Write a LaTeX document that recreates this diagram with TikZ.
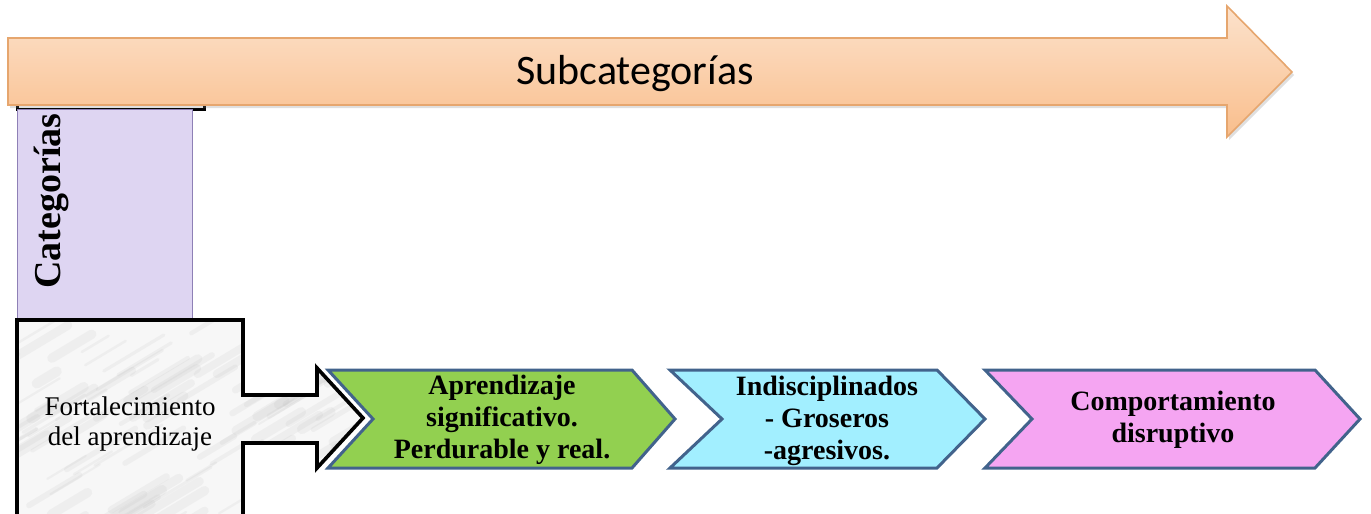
\documentclass[tikz,border=0pt]{standalone}
\usepackage{fontspec}
\setmainfont{Liberation Serif}
\newfontfamily\calibri{Carlito}
\usetikzlibrary{shadows}

\definecolor{arrowtop}{HTML}{FCE2CC}
\definecolor{arrowbot}{HTML}{F9BE8C}
\definecolor{arrowline}{HTML}{E6A66E}
\definecolor{lavender}{HTML}{DED5F2}
\definecolor{lavline}{HTML}{8E80B6}
\definecolor{chevline}{HTML}{42638C}
\definecolor{verde}{HTML}{92D050}
\definecolor{celeste}{HTML}{A2EFFF}
\definecolor{rosa}{HTML}{F5A5F2}

\tikzset{chevron/.style={draw=chevline, line width=1.5pt, line join=miter},
  subtxt/.style={font=\bfseries\fontsize{14}{16}\selectfont, align=center}}

\begin{document}
\begin{tikzpicture}[x=0.5pt,y=-0.5pt]
\useasboundingbox (0,0) rectangle (1371,514);

% categorias
\draw[black, line width=1.5pt] (17,96) rectangle (204,109);
\draw[lavline, fill=lavender] (17,109) rectangle (192,320);
\node[rotate=90, font=\bfseries\fontsize{19}{20}\selectfont] (cat) at (51,201) {Categorías};

% flecha grande
\draw[arrowline, line width=0.8pt, top color=arrowtop, bottom color=arrowbot,
  drop shadow={opacity=0.25, shadow xshift=1pt, shadow yshift=-1.5pt}]
  (8,38) -- (1227,38) -- (1227,6) -- (1292,72) -- (1227,137) -- (1227,105) -- (8,105) -- cycle;
\node[font=\calibri\fontsize{21}{24}\selectfont] (sub) at (635,74) {Subcategorías};

% caja de marmol
\begin{scope}
\clip (17,320) -- (243,320) -- (243,395) -- (317,395) -- (317,368) -- (363,418)
  -- (317,468) -- (317,443) -- (243,443) -- (243,530) -- (17,530) -- cycle;
\fill[gray!6] (0,300) rectangle (400,530);
\pgfmathsetseed{5}
\foreach \k in {1,...,110}{
  \pgfmathsetmacro\sx{-20+rnd*390}
  \pgfmathsetmacro\sy{330+rnd*210}
  \pgfmathsetmacro\len{15+rnd*60}
  \pgfmathsetmacro\lw{1+rnd*4}
  \draw[gray!60, line width=\lw pt, opacity=0.12, line cap=round] (\sx,\sy) -- ++(\len,-0.6*\len);
}
\end{scope}
\draw[white, line width=3.5pt] (317,362) -- (367,418) -- (317,474);
\draw[black, line width=1.8pt, line join=miter]
  (17,530) -- (17,320) -- (243,320) -- (243,395) -- (317,395) -- (317,368) -- (363,418)
  -- (317,468) -- (317,443) -- (243,443) -- (243,530);
\node[align=center, font=\fontsize{13.5}{15}\selectfont] (fort) at (130,424) {Fortalecimiento\\del aprendizaje};

% chevrones
\draw[chevron, fill=verde] (328,370) -- (632,370) -- (675,419) -- (632,468) -- (328,468) -- (373,419) -- cycle;
\draw[chevron, fill=celeste] (670,370) -- (937,370) -- (985,419) -- (937,468) -- (670,468) -- (722,419) -- cycle;
\draw[chevron, fill=rosa] (985,370) -- (1315,370) -- (1360,419) -- (1315,468) -- (985,468) -- (1032,419) -- cycle;

\node[subtxt] (apr) at (502,420) {Aprendizaje\\significativo.\\Perdurable y real.};
\node[subtxt] (ind) at (827,421) {Indisciplinados\\- Groseros\\-agresivos.};
\node[subtxt] (comp) at (1173,420) {Comportamiento\\disruptivo};
\end{tikzpicture}
\end{document}
